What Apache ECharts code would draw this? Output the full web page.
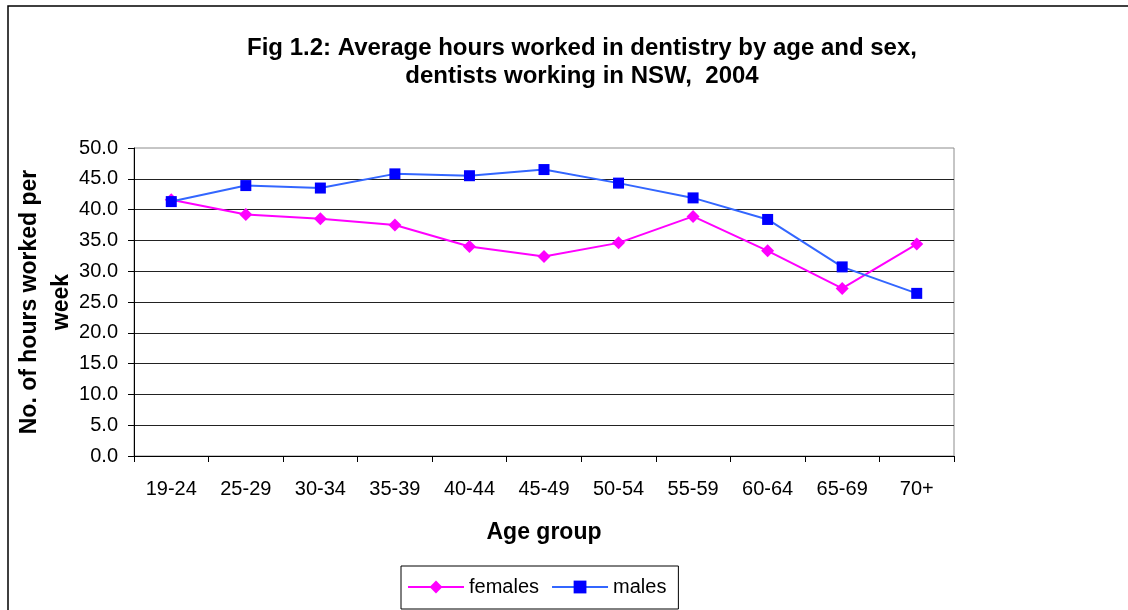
<!DOCTYPE html>
<html>
<head>
<meta charset="utf-8">
<script src="https://cdn.jsdelivr.net/npm/echarts@6/dist/echarts.min.js"></script>
<style>
html,body{margin:0;padding:0;background:#fff;}
#chart{width:1128px;height:610px;}
</style>
</head>
<body>
<div id="chart"></div>
<script>
var titleText = 'Fig 1.2: Average hours worked in dentistry by age and sex,\ndentists working in NSW,  2004';
var xAxisTitle = 'Age group';
var yAxisTitle = 'No. of hours worked per\nweek';
var categories = ['19-24','25-29','30-34','35-39','40-44','45-49','50-54','55-59','60-64','65-69','70+'];
var females = [41.6, 39.2, 38.5, 37.5, 34.0, 32.4, 34.6, 38.9, 33.3, 27.2, 34.4];
var males = [41.3, 43.9, 43.5, 45.8, 45.5, 46.5, 44.3, 41.9, 38.4, 30.7, 26.4];
var seriesNames = ['females', 'males'];

var FONT = '"Liberation Sans", Arial, sans-serif';
var chart = echarts.init(document.getElementById('chart'), null, {renderer: 'canvas'});
chart.setOption({
  animation: false,
  backgroundColor: '#fff',
  graphic: [{
    type: 'rect', silent: true, z: -10,
    shape: {x: 8, y: 6, width: 1300, height: 800},
    style: {fill: 'none', stroke: '#000', lineWidth: 1.5}
  }],
  title: {
    text: titleText,
    left: 577, top: 29, textAlign: 'center',
    textStyle: {fontFamily: FONT, fontSize: 24, fontWeight: 'bold', color: '#000', lineHeight: 28}
  },
  legend: {
    data: seriesNames,
    left: 401, top: 566,
    orient: 'horizontal',
    borderColor: '#000', borderWidth: 1,
    padding: [11, 12, 12, 6],
    itemWidth: 56, itemHeight: 16, itemGap: 12,
    textStyle: {fontFamily: FONT, fontSize: 20, color: '#000'}
  },
  grid: {
    left: 134, right: 174, top: 148, bottom: 154,
    outerBoundsMode: 'none', containLabel: false,
    show: true, borderColor: '#8c8c8c', borderWidth: 1, backgroundColor: 'transparent'
  },
  xAxis: {
    type: 'category',
    data: categories,
    boundaryGap: true,
    name: xAxisTitle,
    nameLocation: 'middle',
    nameGap: 65,
    nameMoveOverlap: false,
    nameTextStyle: {fontFamily: FONT, fontSize: 23, fontWeight: 'bold', color: '#000'},
    axisLine: {lineStyle: {color: '#000', width: 1}},
    axisTick: {show: true, length: 6, lineStyle: {color: '#000'}},
    axisLabel: {fontFamily: FONT, fontSize: 20, color: '#000', margin: 23, interval: 0},
    splitLine: {show: false}
  },
  yAxis: {
    type: 'value',
    min: 0, max: 50, interval: 5,
    name: yAxisTitle,
    nameLocation: 'middle',
    nameRotate: 90,
    nameGap: 56,
    nameMoveOverlap: false,
    nameTextStyle: {fontFamily: FONT, fontSize: 23, fontWeight: 'bold', color: '#000', lineHeight: 32},
    axisLine: {show: true, lineStyle: {color: '#000', width: 1}},
    axisTick: {show: true, length: 6, lineStyle: {color: '#000'}},
    axisLabel: {fontFamily: FONT, fontSize: 20, color: '#000', margin: 16,
      formatter: function (v) { return v.toFixed(1); }},
    splitLine: {show: true, showMaxLine: false, lineStyle: {color: '#222', width: 1}}
  },
  series: [{
    name: seriesNames[0],
    type: 'line',
    data: females,
    symbol: 'diamond',
    symbolSize: 13,
    lineStyle: {color: '#FF00FF', width: 2},
    itemStyle: {color: '#FF00FF'},
    z: 2
  }, {
    name: seriesNames[1],
    type: 'line',
    data: males,
    symbol: 'rect',
    symbolSize: 11,
    lineStyle: {color: '#3366FF', width: 2},
    itemStyle: {color: '#0000FF'},
    z: 3
  }]
});
</script>
</body>
</html>
